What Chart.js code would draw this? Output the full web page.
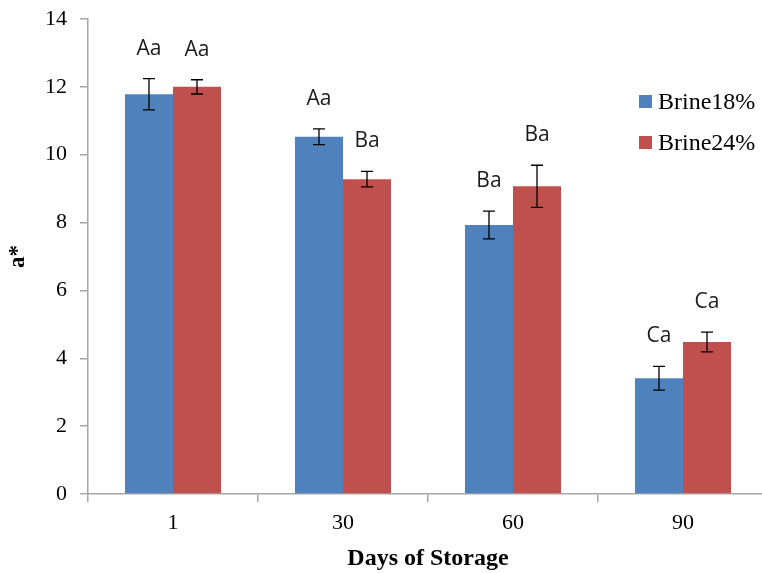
<!DOCTYPE html>
<html lang="en">
<head>
<meta charset="UTF-8">
<title>a* over Days of Storage</title>
<style>
  body { margin: 0; padding: 0; background: #ffffff; overflow: hidden; }
  canvas { display: block; }
</style>
<script src="https://cdn.jsdelivr.net/npm/chart.js"></script>
</head>
<body>
<canvas id="storageChart" width="768" height="573"></canvas>
<script>
// a* values (mean and SD) per brine concentration
const days = ['1', '30', '60', '90'];
const brine18 = [11.78, 10.53, 7.93, 3.41];
const brine18Err = [0.46, 0.23, 0.41, 0.35];
const brine24 = [12.0, 9.28, 9.07, 4.48];
const brine24Err = [0.21, 0.23, 0.62, 0.29];
// significance letters above each bar
const brine18Letters = ['Aa', 'Aa', 'Ba', 'Ca'];
const brine24Letters = ['Aa', 'Ba', 'Ba', 'Ca'];

const axisGrey = '#a6a6a6';
const serif = '"Liberation Serif", "Times New Roman", serif';

// error bars with caps
const errorBars = {
    id: 'errorBars',
    afterDatasetsDraw(chart) {
        const ctx = chart.ctx;
        const y = chart.scales.y;
        ctx.save();
        ctx.strokeStyle = '#000000';
        ctx.lineWidth = 1.3;
        chart.data.datasets.forEach((ds, i) => {
            chart.getDatasetMeta(i).data.forEach((bar, j) => {
                const v = ds.data[j], e = ds.errors[j];
                const top = y.getPixelForValue(v + e);
                const bot = y.getPixelForValue(v - e);
                ctx.beginPath();
                ctx.moveTo(bar.x, top); ctx.lineTo(bar.x, bot);
                ctx.moveTo(bar.x - 6, top); ctx.lineTo(bar.x + 6, top);
                ctx.moveTo(bar.x - 6, bot); ctx.lineTo(bar.x + 6, bot);
                ctx.stroke();
            });
        });
        ctx.restore();
    }
};

// letters above the error bars
const letterLabels = {
    id: 'letterLabels',
    afterDatasetsDraw(chart) {
        const ctx = chart.ctx;
        const y = chart.scales.y;
        ctx.save();
        ctx.fillStyle = '#1a1a1a';
        ctx.font = '21px "Open Sans", sans-serif';
        ctx.textAlign = 'center';
        ctx.textBaseline = 'middle';
        chart.data.datasets.forEach((ds, i) => {
            chart.getDatasetMeta(i).data.forEach((bar, j) => {
                const top = y.getPixelForValue(ds.data[j] + ds.errors[j]);
                ctx.fillText(ds.letters[j], bar.x, top - 30);
            });
        });
        ctx.restore();
    }
};

// legend drawn inside the plot on the right
const sideLegend = {
    id: 'sideLegend',
    afterDraw(chart) {
        const ctx = chart.ctx;
        ctx.save();
        ctx.font = '24px ' + serif;
        ctx.textBaseline = 'middle';
        ctx.textAlign = 'left';
        chart.data.datasets.forEach((ds, i) => {
            const cy = 102 + i * 41;
            ctx.fillStyle = ds.backgroundColor;
            ctx.fillRect(639, cy - 7, 13, 13);
            ctx.fillStyle = '#000000';
            ctx.fillText(ds.label, 658, cy + 1);
        });
        ctx.restore();
    }
};

new Chart(document.getElementById('storageChart'), {
    type: 'bar',
    data: {
        labels: days,
        datasets: [
            { label: 'Brine18%', data: brine18, errors: brine18Err, letters: brine18Letters,
              backgroundColor: '#4F81BD' },
            { label: 'Brine24%', data: brine24, errors: brine24Err, letters: brine24Letters,
              backgroundColor: '#C0504D' }
        ]
    },
    options: {
        responsive: false,
        animation: false,
        categoryPercentage: 0.565,
        barPercentage: 1.0,
        layout: { padding: { top: 19, right: 0, bottom: 0, left: 0 } },
        plugins: {
            legend: { display: false },
            tooltip: { enabled: false }
        },
        scales: {
            x: {
                grid: { offset: true, drawOnChartArea: false, drawTicks: true, tickLength: 8, color: axisGrey, lineWidth: 1.5 },
                border: { color: axisGrey, width: 1.5 },
                ticks: { color: '#000000', font: { family: serif, size: 22 }, padding: 8 },
                title: { display: true, text: 'Days of Storage', color: '#000000',
                         font: { family: serif, size: 24, weight: 'bold' }, padding: { top: 0, bottom: 0 } },
                afterFit(scale) { scale.height = 79; scale.paddingLeft = 0; scale.paddingRight = 0; }
            },
            y: {
                min: 0,
                max: 14,
                grid: { drawOnChartArea: false, drawTicks: true, tickLength: 8, color: axisGrey, lineWidth: 1.5 },
                border: { color: axisGrey, width: 1.5 },
                ticks: { stepSize: 2, color: '#000000', font: { family: serif, size: 22 }, padding: 13 },
                title: { display: true, text: 'a*', color: '#000000',
                         font: { family: serif, size: 23, weight: 'bold' }, padding: { top: 4, bottom: 0 } },
                afterFit(scale) { scale.width = 88; scale.paddingTop = 0; scale.paddingBottom = 0; }
            }
        }
    },
    plugins: [errorBars, letterLabels, sideLegend]
});
</script>
</body>
</html>
